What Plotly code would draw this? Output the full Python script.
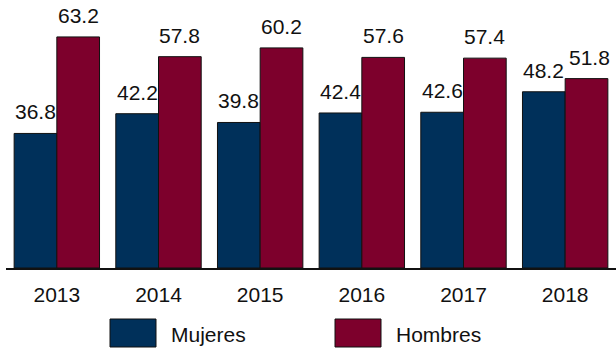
import plotly.graph_objects as go

years = ["2013", "2014", "2015", "2016", "2017", "2018"]
mujeres = [36.8, 42.2, 39.8, 42.4, 42.6, 48.2]
hombres = [63.2, 57.8, 60.2, 57.6, 57.4, 51.8]

NAVY = "#00305A"
MAROON = "#7D002C"
FONT = "Liberation Sans, Arial, sans-serif"
FS = 21

fig = go.Figure()
series = [("Mujeres", mujeres, NAVY, -1), ("Hombres", hombres, MAROON, 1)]
for name, vals, color, side in series:
    fig.add_trace(go.Bar(
        x=years, y=vals, name=name,
        marker=dict(color=color, line=dict(color="#111111", width=1)),
        showlegend=False,
    ))
    # value labels floating above each bar (x given as category index,
    # since the year strings would otherwise be read as numeric indices)
    for i, v in enumerate(vals):
        nudge = 3 if (side == 1 and i == len(vals) - 1) else 0
        fig.add_annotation(
            x=i, y=v, xref="x", yref="y",
            xshift=side * 21.4 + nudge, yshift=8,
            xanchor="center", yanchor="bottom", showarrow=False,
            text=f"{v:.1f}",
            font=dict(family=FONT, size=FS, color="#111111"),
        )

fig.update_layout(
    width=616, height=348,
    margin=dict(l=6, r=0, t=0, b=80),
    barmode="group", bargap=0.16, bargroupgap=0,
    plot_bgcolor="white", paper_bgcolor="white",
    font=dict(family=FONT, size=FS, color="#111111"),
    xaxis=dict(type="category", categoryarray=years, categoryorder="array",
               range=[-0.5, len(years) - 0.5],
               showline=True, linecolor="#111111", linewidth=1.5,
               ticks="", ticklabelstandoff=7,
               tickfont=dict(family=FONT, size=FS, color="#111111")),
    yaxis=dict(range=[0, 73.3], visible=False, showgrid=False),
)

# legend drawn as large swatches with labels below the plot
legend_items = [("Mujeres", NAVY, 110), ("Hombres", MAROON, 335)]
for label, color, x0 in legend_items:
    fig.add_shape(type="rect", xref="paper", yref="paper",
                  x0=(x0 - 6) / 610, x1=(x0 + 46 - 6) / 610,
                  y0=-(347 - 268) / 268, y1=-(319 - 268) / 268,
                  fillcolor=color, line=dict(color="#111111", width=1))
    fig.add_annotation(xref="paper", yref="paper",
                       x=(x0 + 59 - 6) / 610, y=-(334 - 268) / 268,
                       xanchor="left", yanchor="middle", showarrow=False,
                       text=label, font=dict(family=FONT, size=FS, color="#111111"))

fig.write_html("out.html")
